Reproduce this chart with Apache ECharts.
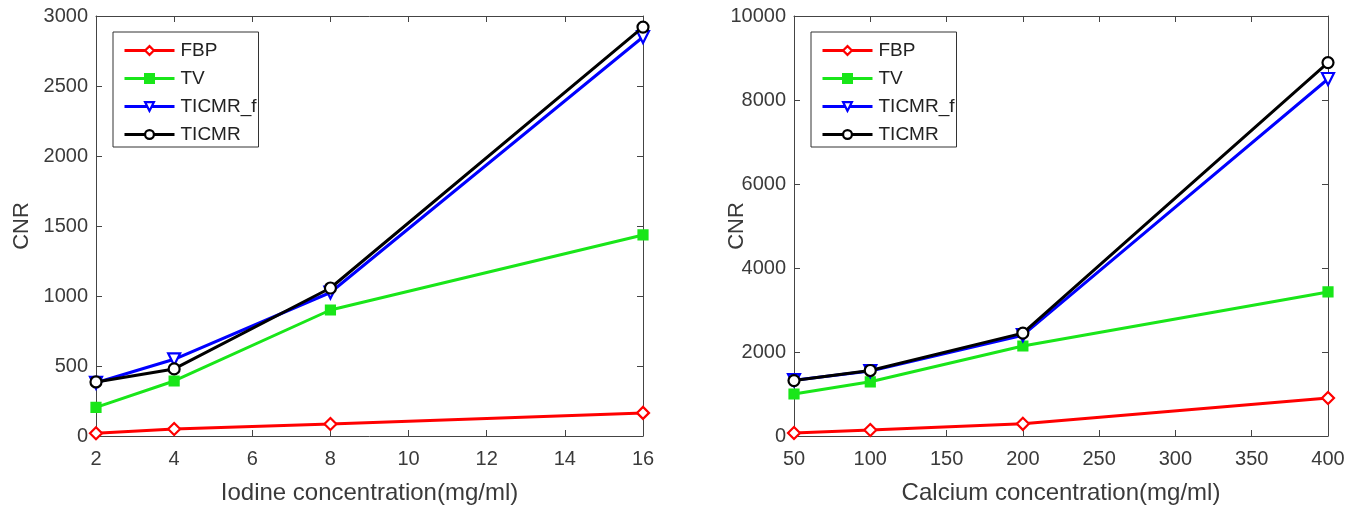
<!DOCTYPE html>
<html><head><meta charset="utf-8">
<script src="https://cdn.jsdelivr.net/npm/echarts@6/dist/echarts.min.js"></script>
<style>html,body{margin:0;padding:0;background:#fff}#c{width:1365px;height:510px}</style>
</head><body><div id="c"></div>
<script>
const seriesNames = ['FBP', 'TV', 'TICMR_f', 'TICMR'];
const iodineX = [2, 4, 8, 16];
const iodineFBP = [20, 50, 86, 165];
const iodineTV = [205, 393, 900, 1436];
const iodineTICMRf = [380, 548, 1025, 2850];
const iodineTICMR = [386, 479, 1057, 2921];
const calciumX = [50, 100, 200, 400];
const calciumFBP = [71, 143, 290, 905];
const calciumTV = [1000, 1290, 2143, 3430];
const calciumTICMRf = [1330, 1545, 2400, 8500];
const calciumTICMR = [1320, 1560, 2450, 8890];

const colors = ['#ff0000', '#19e619', '#0000ff', '#000000'];
const symbols = ['diamond', 'rect', 'triangle', 'circle'];
const symRot = [0, 0, 180, 0];
const symSize = [12, 9, 12, 11];
const hollow = [true, false, true, true];
const font = 'Liberation Sans, Arial, sans-serif';
const txt = '#3a3a3a';
const axc = '#444444';

function pairs(xs, ys){ return xs.map((x,i)=>[x, ys[i]]); }

const grids = [
  {left: 96, top: 16, width: 547, height: 420},
  {left: 794, top: 16, width: 534, height: 420}
];

function mainX(gi, min, max, interval, name){
  return {type:'value', gridIndex: gi, min, max, interval, name, nameLocation:'middle', nameGap: 45,
    nameMoveOverlap:false,
    nameTextStyle:{fontFamily:font, fontSize:24, color:txt},
    axisLine:{show:true, onZero:false, lineStyle:{color:axc, width:1}},
    axisTick:{show:true, inside:true, length:6, lineStyle:{color:axc}},
    axisLabel:{fontFamily:font, fontSize:20, color:txt, margin:13},
    splitLine:{show:false}};
}
function topX(gi, min, max, interval){
  return {type:'value', gridIndex: gi, position:'top', min, max, interval,
    axisLine:{show:true, onZero:false, lineStyle:{color:axc, width:1}},
    axisTick:{show:true, inside:true, length:6, lineStyle:{color:axc}},
    axisLabel:{show:false}, splitLine:{show:false}};
}
function mainY(gi, max, interval){
  return {type:'value', gridIndex: gi, min:0, max, interval, name:'CNR', nameLocation:'middle', nameGap: gi===0?63:46,
    nameMoveOverlap:false,
    nameTextStyle:{fontFamily:font, fontSize:22, color:txt},
    axisLine:{show:true, onZero:false, lineStyle:{color:axc, width:1}},
    axisTick:{show:true, inside:true, length:6, lineStyle:{color:axc}},
    axisLabel:{fontFamily:font, fontSize:20, color:txt, margin:8, formatter: v => String(v)},
    splitLine:{show:false}};
}
function rightY(gi, max, interval){
  return {type:'value', gridIndex: gi, position:'right', min:0, max, interval,
    axisLine:{show:true, onZero:false, lineStyle:{color:axc, width:1}},
    axisTick:{show:true, inside:true, length:6, lineStyle:{color:axc}},
    axisLabel:{show:false}, splitLine:{show:false}};
}

const dataSets = [
  [iodineFBP, iodineTV, iodineTICMRf, iodineTICMR],
  [calciumFBP, calciumTV, calciumTICMRf, calciumTICMR]
];
const xs = [iodineX, calciumX];
const series = [];
for (let g = 0; g < 2; g++){
  for (let s = 0; s < 4; s++){
    series.push({
      name: seriesNames[s], type:'line', xAxisIndex: g*2, yAxisIndex: g*2,
      data: pairs(xs[g], dataSets[g][s]),
      symbol: symbols[s], symbolRotate: symRot[s], symbolSize: symSize[s], showSymbol:true,
      lineStyle:{color: colors[s], width: 3},
      itemStyle:{color: hollow[s] ? '#ffffff' : colors[s], borderColor: colors[s], borderWidth: 2.2},
      z: 2 + s, animation:false
    });
  }
}

function legend(left){
  return {show:true, orient:'vertical', left, top: 32, itemWidth: 50, itemHeight: 11, itemGap: 9,
    padding:[9, 2, 3, 10], borderColor:'#333', borderWidth:1, backgroundColor:'#fff',
    textStyle:{fontFamily:font, fontSize:19, lineHeight:19, color:'#222', padding:[0,0,0,1]},
    data: seriesNames.map((n, i)=>({name:n, itemStyle:{color: hollow[i]?'#ffffff':colors[i], borderColor:colors[i], borderWidth:2.2}, lineStyle:{width:3, color:colors[i]}})),
    selectedMode:false};
}

const chart = echarts.init(document.getElementById('c'), null, {renderer:'canvas'});
chart.setOption({
  animation:false,
  backgroundColor:'#fff',
  grid: grids,
  xAxis: [mainX(0, 2, 16, 2, 'Iodine concentration(mg/ml)'), topX(0, 2, 16, 2),
          mainX(1, 50, 400, 50, 'Calcium concentration(mg/ml)'), topX(1, 50, 400, 50)],
  yAxis: [mainY(0, 3000, 500), rightY(0, 3000, 500), mainY(1, 10000, 2000), rightY(1, 10000, 2000)],
  legend: [legend(113), legend(811)],
  series
});
</script></body></html>
